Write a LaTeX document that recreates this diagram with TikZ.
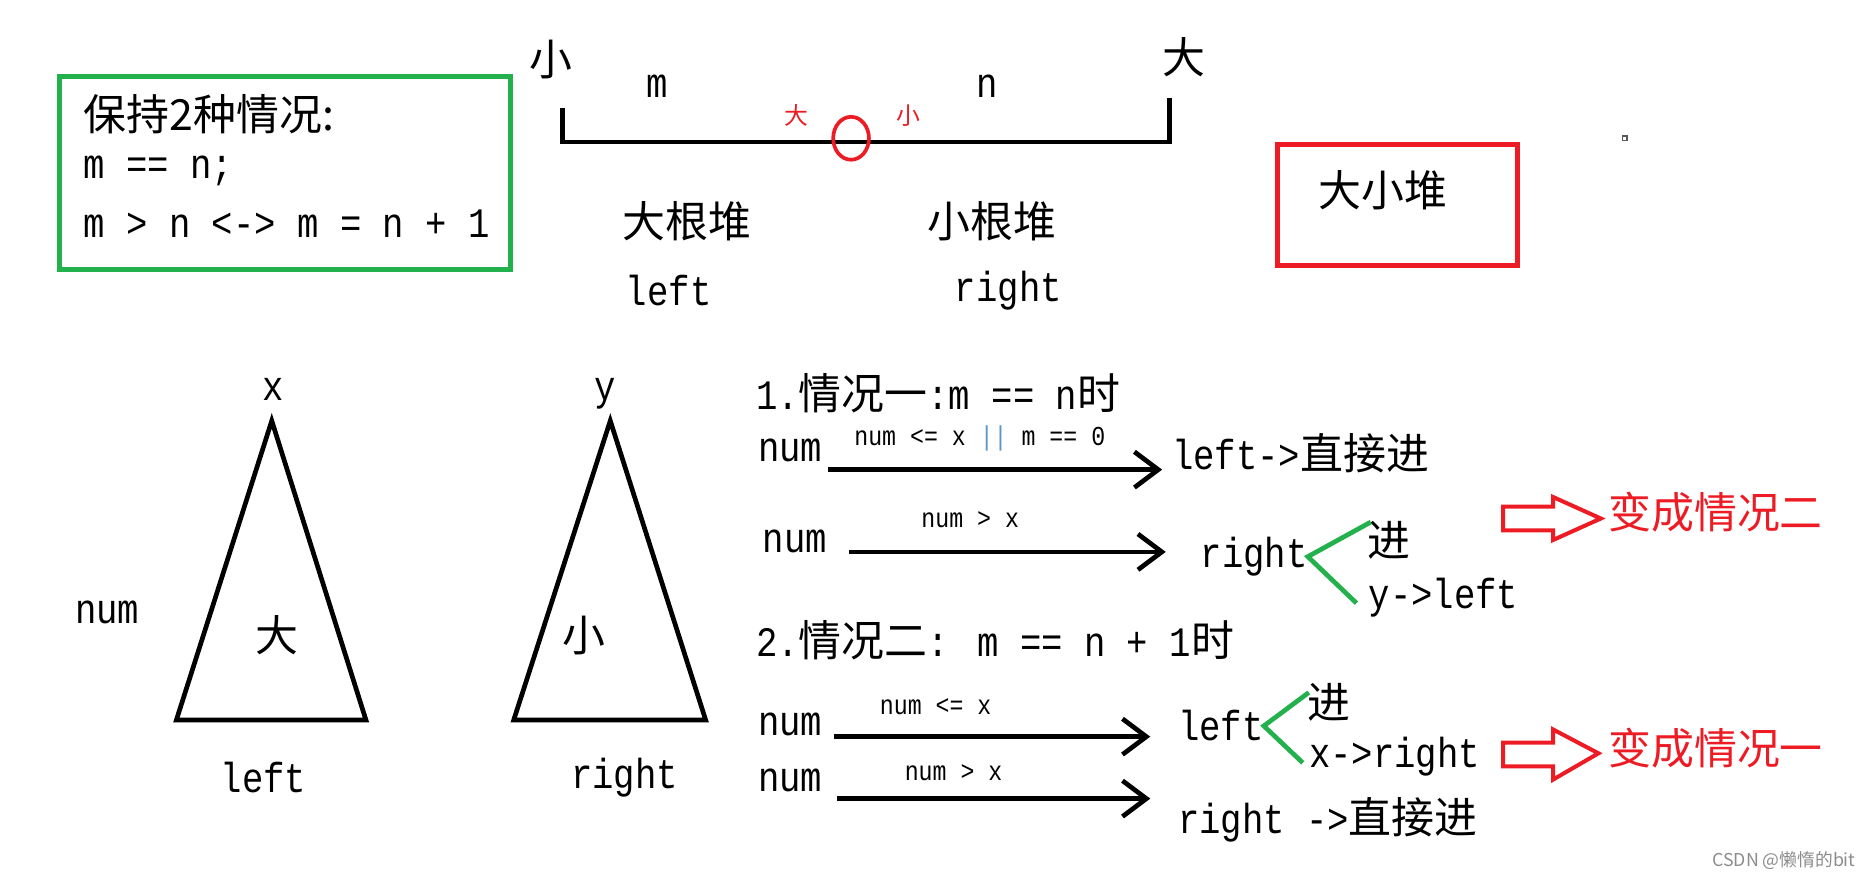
\documentclass[tikz,border=0pt]{standalone}
\usepackage{fontspec}
\setmainfont[FakeStretch=0.85]{Liberation Mono}
\newfontfamily\cjk[Scale=1.024]{Noto Sans CJK SC}
\newfontfamily\wmfont{Noto Sans CJK SC}
\usetikzlibrary{arrows.meta}
\definecolor{pgreen}{RGB}{34,177,76}
\definecolor{pred}{RGB}{237,28,36}
\definecolor{pblue}{RGB}{95,150,200}

\begin{document}
\begin{tikzpicture}[x=0.025cm,y=-0.025cm]
			\tikzstyle{every node}=[inner sep=0pt,font=\fontsize{25}{28}\selectfont]
			\tikzstyle{lab}=[font=\fontsize{16.3}{18}\selectfont]
			\tikzstyle{redsm}=[text=pred,font=\cjk\fontsize{13.9}{16}\selectfont]
			\tikzstyle{thick line}=[line width=2.8pt]
			\tikzstyle{arr}=[thick line,-{Straight Barb[length=5mm,width=7.5mm]}]
			\tikzstyle{branch}=[draw=pgreen,line width=2.8pt]
			\tikzstyle{hollow}=[draw=pred,line width=2.4pt,line join=miter]
			\useasboundingbox (0,0) rectangle (1568,738);
			\draw[draw=pgreen,line width=2.8pt] (50,64) rectangle (428,226);
			\node[anchor=west] (keep) at (70,96) {{\cjk 保持2种情况:}};
			\node[anchor=west] (same) at (70,143) {m == n;};
			\node[anchor=west] (more) at (70,188) {m > n <-> m = n + 1};
			\draw[thick line] (472,91) -- (472,119) -- (981,119) -- (981,82);
			\draw[draw=pred,line width=2.2pt] (714,116) ellipse [x radius=15,y radius=18];
			\node (small) at (462,50) {\cjk 小};
			\node (big) at (993,48) {\cjk 大};
			\node (m) at (551,72) {m};
			\node (n) at (828,72) {n};
			\node[redsm] (rbig) at (668,97) {大};
			\node[redsm] (rsmall) at (762,97) {小};
			\node (maxheap) at (576,186) {\cjk 大根堆};
			\node (minheap) at (832,186) {\cjk 小根堆};
			\node (lefttop) at (561,244) {left};
			\node (righttop) at (846,244) {right};
			\draw[draw=pred,line width=3.2pt] (1072,121) rectangle (1273,223);
			\node (bothheap) at (1160,160) {\cjk 大小堆};
			\draw[draw=black!65,line width=0.8pt] (1361,114) rectangle (1365,118);
			\draw[thick line] (228,353) -- (307,604) -- (148,604) -- cycle;
			\draw[thick line] (512,353) -- (592,604) -- (431,604) -- cycle;
			\node (x) at (229,327) {x};
			\node (y) at (508,330) {y};
			\node (numin) at (90,514) {num};
			\node (bigin) at (232,533) {\cjk 大};
			\node (smallin) at (490,533) {\cjk 小};
			\node (leftheap) at (221,652) {left};
			\node (rightheap) at (524,652) {right};
			\node[anchor=west] (case1) at (634,330) {1.{\cjk 情况一}:m == n{\cjk 时}};
			\node (num1) at (663,378) {num};
			\node[anchor=west] (go1) at (983,380) {left->{\cjk 直接进}};
			\coordinate (a1s) at (695,394);
			\coordinate (a1e) at (975,394);
			\draw[arr] (a1s) -- (a1e);
			\node[lab] (cond1) at (822,368) {num <= x {\color{pblue}||} m == 0};
			\node (num2) at (667,454) {num};
			\node[anchor=west] (right2) at (1007,467) {right};
			\coordinate (a2s) at (712,463);
			\coordinate (a2e) at (978,463);
			\draw[arr] (a2s) -- (a2e);
			\node[lab] (cond2) at (814,436) {num > x};
			\node (in2) at (1165,453) {\cjk 进};
			\node[anchor=west] (move2) at (1148,501) {y->left};
			\coordinate (b2u) at (1150,438);
			\coordinate (b2d) at (1138,506);
			\draw[branch] (b2u) -- (right2.east) -- (b2d);
			\draw[hollow] (1261,425) -- (1303,425) -- (1303,417) -- (1343,435) -- (1303,453) -- (1303,445) -- (1261,445) -- cycle;
			\node[anchor=west,text=pred] (to2) at (1349,430) {\cjk 变成情况二};
			\node[anchor=west] (case2) at (634,537) {2.{\cjk 情况二}: m == n + 1{\cjk 时}};
			\node (num3) at (663,608) {num};
			\node[anchor=west] (left3) at (988,609) {left};
			\coordinate (a3s) at (700,618);
			\coordinate (a3e) at (965,618);
			\draw[arr] (a3s) -- (a3e);
			\node[lab] (cond3) at (785,593) {num <= x};
			\node (in3) at (1115,589) {\cjk 进};
			\node[anchor=west] (move3) at (1098,635) {x->right};
			\coordinate (b3u) at (1098,581);
			\coordinate (b3d) at (1093,640);
			\draw[branch] (b3u) -- (left3.east) -- (b3d);
			\draw[hollow] (1261,623) -- (1303,623) -- (1303,612) -- (1341,632) -- (1303,654) -- (1303,643) -- (1261,643) -- cycle;
			\node[anchor=west,text=pred] (to1) at (1349,628) {\cjk 变成情况一};
			\node (num4) at (663,655) {num};
			\node[anchor=west] (go4) at (988,688) {right ->{\cjk 直接进}};
			\coordinate (a4s) at (702,670);
			\coordinate (a4e) at (965,670);
			\draw[arr] (a4s) -- (a4e);
			\node[lab] (cond4) at (800,648) {num > x};
			\node[anchor=east,text=black!45,font=\wmfont\fontsize{10.6}{12}\selectfont] (mark) at (1557,722) {CSDN @懒惰的bit};
		\end{tikzpicture}
\end{document}
